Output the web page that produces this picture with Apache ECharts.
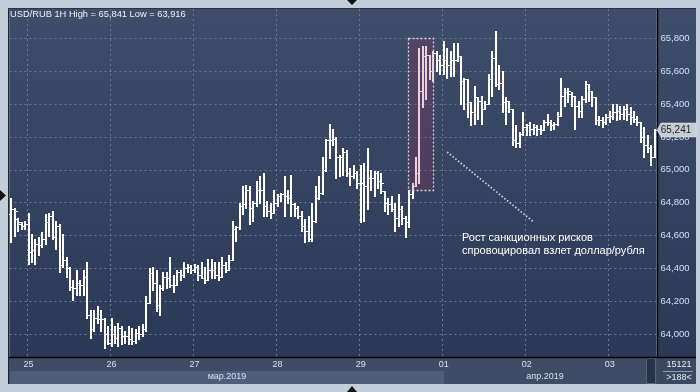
<!DOCTYPE html>
<html><head><meta charset="utf-8">
<script src="https://cdn.jsdelivr.net/npm/echarts@6/dist/echarts.min.js"></script>
<style>html,body{margin:0;padding:0;background:#c3cedb;}#c{width:700px;height:392px;}</style>
</head><body><div id="c"></div>
<script>
// ---- DATA (USD/RUB, 1H bars, 22.03 19:00 .. 03.04 13:00) ----
const dayLabels = ['25','26','27','28','29','01','02','03'];
const dayMonths = ['03','03','03','03','03','04','04','04'];
const preDay = {day:'22', month:'03', firstHour:19};
const firstDayIndex = 5;           // bar index of 25.03 00:00
const lastHourOfLastDay = 13;
const monthLabels = ['мар.2019','апр.2019'];
const yTicks = [64.0,64.2,64.4,64.6,64.8,65.0,65.2,65.4,65.6,65.8];
const yRange = [63.862, 65.9775];
const titleText = 'USD/RUB 1H High = 65,841 Low = 63,916';
const lastPrice = 65.241;
const noteText = 'Рост санкционных рисков\nспровоцировал взлет доллар/рубля';
const boxX = [115, 122];            // bar indices covered by the highlight box
const boxY = [64.88, 65.80];        // price range of the highlight box
const pointerFrom = [126, 65.108];
const pointerTo = [151, 64.683];

const open = [
 64.73,64.76,64.70,64.67,64.66,
 64.67,64.50,64.51,64.55,64.54,64.58,64.68,64.72,64.59,64.66,64.42,64.45,64.40,64.29,64.28,64.31,64.30,64.35,64.12,64.03,64.10,64.09,64.09,64.00,
 63.95,64.00,63.98,64.04,63.99,63.99,63.97,63.96,64.01,64.00,64.03,64.19,64.37,64.31,64.18,64.28,64.35,64.34,64.30,64.30,64.38,64.36,64.40,64.41,
 64.39,64.41,64.36,64.34,64.33,64.39,64.39,64.36,64.35,64.42,64.39,64.45,64.64,64.65,64.78,64.79,64.88,64.77,64.80,64.88,64.88,64.78,64.75,64.74,
 64.80,64.84,64.85,64.84,64.83,64.79,64.77,64.72,64.66,64.63,64.58,64.69,64.83,64.86,65.00,65.18,65.18,65.19,65.08,65.08,65.11,64.98,64.96,64.98,
 64.92,64.92,64.90,64.95,64.95,64.98,64.93,64.87,64.80,64.79,64.76,64.71,64.76,64.71,64.68,64.85,64.90,64.98,65.48,65.69,65.70,65.60,65.71,65.67,
 65.64,65.67,65.64,65.67,65.67,65.69,65.54,65.55,65.41,65.35,65.44,65.42,65.37,65.40,65.55,65.68,65.52,65.53,65.41,65.42,65.37,65.18,65.16,65.22,
 65.26,65.27,65.25,65.26,65.25,65.24,65.29,65.29,65.27,65.28,65.33,65.45,65.47,65.46,65.45,65.39,65.36,65.43,65.52,65.48,65.44,65.30,65.30,65.29,
 65.32,65.33,65.35,65.36,65.34,65.37,65.34,65.32,65.31,65.29,65.20,65.15,65.13,65.08
];
const high = [
 64.83,64.77,64.71,64.68,64.69,
 64.74,64.61,64.58,64.59,64.62,64.73,64.74,64.75,64.69,64.67,64.61,64.47,64.41,64.33,64.39,64.33,64.39,64.44,64.15,64.15,64.17,64.15,64.10,64.05,
 64.10,64.05,64.07,64.05,64.02,64.05,64.04,64.03,64.05,64.06,64.23,64.40,64.41,64.39,64.30,64.38,64.38,64.47,64.36,64.39,64.39,64.44,64.43,64.42,
 64.43,64.42,64.44,64.41,64.46,64.46,64.44,64.44,64.47,64.44,64.48,64.69,64.66,64.80,64.90,64.91,64.90,64.81,64.93,64.96,64.98,64.81,64.80,64.88,
 64.85,64.86,64.96,64.88,64.97,64.80,64.78,64.75,64.70,64.72,64.80,64.90,64.96,65.08,65.19,65.28,65.25,65.20,65.09,65.13,65.12,65.01,65.03,64.99,
 65.03,65.04,65.13,65.00,64.99,64.99,64.98,64.87,64.83,64.84,64.80,64.85,64.78,64.72,64.88,64.92,65.08,65.74,65.75,65.75,65.70,65.72,65.72,65.70,
 65.78,65.74,65.72,65.77,65.77,65.69,65.56,65.55,65.41,65.51,65.44,65.45,65.42,65.58,65.72,65.841,65.64,65.60,65.44,65.42,65.37,65.27,65.23,65.35,
 65.28,65.29,65.28,65.27,65.27,65.30,65.34,65.30,65.29,65.35,65.56,65.50,65.50,65.47,65.45,65.42,65.45,65.54,65.52,65.48,65.44,65.33,65.32,65.34,
 65.36,65.40,65.40,65.39,65.39,65.40,65.38,65.36,65.33,65.29,65.26,65.21,65.15,65.25
];
const low = [
 64.56,64.60,64.63,64.64,64.64,
 64.43,64.44,64.43,64.48,64.53,64.55,64.60,64.58,64.52,64.38,64.41,64.35,64.27,64.21,64.24,64.24,64.24,64.10,63.98,64.02,64.07,64.02,63.916,63.94,
 63.93,63.95,63.93,63.94,63.95,63.94,63.94,63.95,63.97,63.99,64.02,64.19,64.27,64.14,64.12,64.27,64.28,64.29,64.26,64.30,64.33,64.35,64.38,64.37,
 64.38,64.33,64.34,64.31,64.33,64.34,64.34,64.33,64.35,64.38,64.39,64.45,64.57,64.64,64.73,64.77,64.67,64.69,64.78,64.80,64.72,64.72,64.71,64.74,
 64.78,64.81,64.72,64.80,64.72,64.72,64.71,64.63,64.56,64.57,64.57,64.68,64.82,64.85,64.99,65.07,65.15,64.95,64.96,64.97,64.96,64.91,64.95,64.89,
 64.68,64.69,64.76,64.88,64.84,64.89,64.86,64.75,64.73,64.75,64.63,64.66,64.67,64.59,64.65,64.83,64.90,64.92,65.38,65.43,65.55,65.54,65.60,65.58,
 65.58,65.56,65.57,65.57,65.66,65.40,65.37,65.32,65.27,65.28,65.31,65.28,65.37,65.40,65.45,65.51,65.49,65.35,65.28,65.35,65.15,65.14,65.14,65.21,
 65.21,65.21,65.22,65.21,65.22,65.24,65.27,65.24,65.25,65.27,65.33,65.39,65.41,65.39,65.25,65.32,65.32,65.41,65.42,65.39,65.28,65.27,65.26,65.28,
 65.29,65.31,65.30,65.31,65.31,65.30,65.28,65.29,65.27,65.17,65.08,65.11,65.03,65.08
];
const close = [
 64.76,64.75,64.68,64.66,64.67,
 64.50,64.51,64.55,64.54,64.58,64.68,64.72,64.59,64.66,64.42,64.45,64.40,64.29,64.28,64.31,64.30,64.35,64.12,64.03,64.10,64.09,64.09,64.00,63.95,
 64.00,63.98,64.04,63.99,63.99,63.97,63.96,64.01,64.00,64.03,64.19,64.37,64.31,64.18,64.28,64.35,64.34,64.30,64.30,64.38,64.36,64.40,64.41,64.39,
 64.41,64.36,64.34,64.33,64.39,64.39,64.36,64.35,64.42,64.39,64.45,64.64,64.65,64.78,64.79,64.88,64.77,64.80,64.88,64.88,64.78,64.75,64.74,64.80,
 64.84,64.85,64.84,64.83,64.79,64.77,64.72,64.66,64.63,64.58,64.69,64.83,64.86,65.00,65.18,65.18,65.19,65.08,65.08,65.11,64.98,64.96,64.98,64.92,
 64.92,64.90,64.95,64.95,64.98,64.93,64.92,64.80,64.79,64.76,64.71,64.76,64.71,64.68,64.85,64.90,64.98,65.48,65.69,65.70,65.60,65.71,65.67,65.64,
 65.67,65.64,65.67,65.67,65.69,65.54,65.55,65.41,65.35,65.44,65.42,65.37,65.40,65.55,65.68,65.52,65.53,65.41,65.42,65.37,65.18,65.16,65.22,65.26,
 65.27,65.25,65.26,65.25,65.24,65.29,65.29,65.27,65.28,65.33,65.45,65.47,65.48,65.45,65.39,65.36,65.43,65.52,65.48,65.44,65.30,65.30,65.29,65.32,
 65.33,65.35,65.36,65.34,65.37,65.34,65.32,65.31,65.29,65.20,65.15,65.13,65.08,65.241
];

// ---- category labels (hour stamps) ----
const pad = n => (n < 10 ? '0' : '') + n;
const categories = [];
for (let h = preDay.firstHour; h < 24; h++) categories.push(preDay.day + '.' + preDay.month + ' ' + pad(h) + ':00');
dayLabels.forEach((d, j) => {
  const lastH = j === dayLabels.length - 1 ? lastHourOfLastDay : 23;
  for (let h = 0; h <= lastH; h++) categories.push(d + '.' + dayMonths[j] + ' ' + pad(h) + ':00');
});
const ohlc = open.map((o, i) => [i, o, high[i], low[i], close[i]]);
const dayStarts = dayLabels.map((d, j) => firstDayIndex + 24 * j);
const fmt = v => v.toFixed(3).replace('.', ',');
const FONT = '"Liberation Sans", Arial, sans-serif';
const isDayStart = idx => idx >= firstDayIndex && (idx - firstDayIndex) % 24 === 0;

const chart = echarts.init(document.getElementById('c'), null, {renderer: 'canvas', width: 700, height: 392});

function renderOHLC(params, api) {
  const i = api.value(0);
  const top = api.coord([i, api.value(2)]);
  const bot = api.coord([i, api.value(3)]);
  const po = api.coord([i, api.value(1)]);
  const pc = api.coord([i, api.value(4)]);
  const x = Math.round(top[0]);
  const yo = Math.round(po[1]) + 0.5, yc = Math.round(pc[1]) + 0.5;
  const col = '#ffffff';
  return {type: 'group', children: [
    {type: 'line', shape: {x1: x, y1: Math.round(top[1]), x2: x, y2: Math.round(bot[1]) + 1}, style: {stroke: col, lineWidth: 2}},
    {type: 'line', shape: {x1: x - 3, y1: yo, x2: x, y2: yo}, style: {stroke: col, lineWidth: 1}},
    {type: 'line', shape: {x1: x, y1: yc, x2: x + 3, y2: yc}, style: {stroke: col, lineWidth: 1}}
  ]};
}

function renderBox(params, api) {
  const bw = api.size([1, 0])[0];
  const p1 = api.coord([api.value(0), api.value(3)]);
  const p2 = api.coord([api.value(1), api.value(2)]);
  const x1 = Math.round(p1[0] - bw * 0.2) + 0.5, x2 = Math.round(p2[0]) + 0.5;
  const y1 = Math.round(p1[1]) + 0.5, y2 = Math.round(p2[1]) + 0.5;
  return {type: 'rect', shape: {x: x1, y: y1, width: x2 - x1, height: y2 - y1},
    style: {fill: 'rgba(170,40,90,0.22)', stroke: '#d4d4dc', lineWidth: 1.3, lineDash: [2, 2]}};
}

const splitStyle = {color: '#6a7a9a', width: 1, type: [2, 3]};

const option = {
  animation: false,
  backgroundColor: '#c3cedb',
  title: {text: titleText, left: 10, top: 10, padding: 0,
    textStyle: {color: '#eef3fa', fontSize: 9.3, fontWeight: 'normal', fontFamily: FONT}},
  grid: {left: 9.47, right: 43.5, top: 9, bottom: 35, outerBoundsMode: 'none', containLabel: false,
    show: true, borderWidth: 0,
    backgroundColor: new echarts.graphic.LinearGradient(0, 0, 0, 1, [{offset: 0, color: '#3e4d6a'}, {offset: 1, color: '#2c3956'}])},
  xAxis: {
    type: 'category', data: categories, boundaryGap: true, z: 1,
    axisLine: {show: false}, axisTick: {show: false},
    splitLine: {show: true, interval: isDayStart, lineStyle: splitStyle},
    axisLabel: {
      interval: isDayStart,
      formatter: v => v.slice(0, 2),
      color: '#d3e1f3', fontSize: 9, fontFamily: FONT, margin: 3
    }
  },
  yAxis: {
    type: 'value', position: 'right', min: yRange[0], max: yRange[1], z: 1,
    axisLine: {show: false}, axisTick: {show: false, customValues: yTicks},
    splitLine: {show: true, lineStyle: splitStyle},
    axisLabel: {customValues: yTicks, formatter: fmt, color: '#cfe0f7', fontSize: 9.5, fontFamily: FONT, margin: 4}
  },
  series: [
    {type: 'custom', name: 'USD/RUB', z: 3, clip: true,
      renderItem: renderOHLC, data: ohlc, encode: {x: 0, y: [1, 2, 3, 4]}},
    {
      type: 'custom', name: 'box', z: 4, silent: true,
      renderItem: renderBox, data: [[boxX[0], boxX[1], boxY[0], boxY[1]]], encode: {x: [0, 1], y: [2, 3]},
      markLine: {
        z: 5, silent: true, symbol: ['none', 'none'], label: {show: false}, emphasis: {disabled: true},
        lineStyle: {color: '#c9d1de', width: 1.8, type: [1.5, 2]},
        data: [[{coord: pointerFrom}, {coord: pointerTo}]]
      }
    }
  ]
};
chart.setOption(option);

// ---- chrome, positioned from the axes ----
const xPix = i => chart.convertToPixel({xAxisIndex: 0}, i);
const yPix = v => chart.convertToPixel({yAxisIndex: 0}, v);
const aprX = Math.round(xPix(dayStarts[5]));
const priceY = Math.round(yPix(lastPrice));
const BG = -100;
const gfx = [
  {type: 'rect', z: BG, shape: {x: 8, y: 9, width: 1.5, height: 348}, style: {fill: '#3a4866'}},
  {type: 'rect', z: BG, shape: {x: 657, y: 9, width: 39, height: 348},
    style: {fill: new echarts.graphic.LinearGradient(0, 0, 0, 1, [{offset: 0, color: '#3e4d6a'}, {offset: 1, color: '#2c3956'}])}},
  {type: 'rect', z: BG, shape: {x: 8, y: 357, width: 649, height: 27}, style: {fill: '#3e4c66'}},
  {type: 'rect', z: BG, shape: {x: 10, y: 371, width: aprX - 10, height: 13}, style: {fill: '#4f5e78'}},
  {type: 'rect', z: BG, shape: {x: 646.5, y: 358.5, width: 9, height: 25}, style: {fill: '#27334b', stroke: '#56647c', lineWidth: 1}},
  {type: 'rect', z: BG, shape: {x: 657, y: 357, width: 39, height: 27}, style: {fill: '#3a4862'}},
  {type: 'line', z: 20, shape: {x1: 8, y1: 357.5, x2: 696, y2: 357.5}, style: {stroke: '#000', lineWidth: 1.5}},
  {type: 'line', z: 20, shape: {x1: 657.5, y1: 9, x2: 657.5, y2: 357}, style: {stroke: '#000', lineWidth: 1.5}},
  {type: 'line', z: 20, shape: {x1: 8.5, y1: 8, x2: 8.5, y2: 384}, style: {stroke: '#1d2535', lineWidth: 1}},
  {type: 'line', z: 20, shape: {x1: 8, y1: 8.5, x2: 696, y2: 8.5}, style: {stroke: '#2a3346', lineWidth: 1}},
  {type: 'line', z: 20, shape: {x1: 663, y1: 371.5, x2: 693, y2: 371.5}, style: {stroke: '#8a9ab0', lineWidth: 1}},
  {type: 'text', z: 20, x: (10 + aprX) / 2, y: 377, style: {text: monthLabels[0], fill: '#d3e1f3', font: '9px ' + FONT, align: 'center', verticalAlign: 'middle'}},
  {type: 'text', z: 20, x: (aprX + 646) / 2, y: 377, style: {text: monthLabels[1], fill: '#d3e1f3', font: '9px ' + FONT, align: 'center', verticalAlign: 'middle'}},
  {type: 'text', z: 20, x: 679, y: 364.5, style: {text: '15121', fill: '#e6edf6', font: '9px ' + FONT, align: 'center', verticalAlign: 'middle'}},
  {type: 'text', z: 20, x: 679, y: 378, style: {text: '>188<', fill: '#e6edf6', font: '9px ' + FONT, align: 'center', verticalAlign: 'middle'}},
  {type: 'polygon', z: 20, shape: {points: [[0, 190], [6, 195.5], [0, 201]]}, style: {fill: '#111'}},
  {type: 'polygon', z: 20, shape: {points: [[347, 0], [357, 0], [352, 5]]}, style: {fill: '#111'}},
  {type: 'polygon', z: 20, shape: {points: [[347, 392], [357, 392], [352, 386]]}, style: {fill: '#111'}},
  {type: 'polygon', z: 30, shape: {points: [[657, priceY], [661, priceY - 7], [696, priceY - 7], [696, priceY + 7], [661, priceY + 7]]},
    style: {fill: '#c8ccd3', stroke: '#e8eaee', lineWidth: 0.5}},
  {type: 'text', z: 31, x: 676, y: priceY, style: {text: fmt(lastPrice), fill: '#18202c', font: '10px ' + FONT, align: 'center', verticalAlign: 'middle'}},
  {type: 'text', z: 20, x: 462, y: 231, style: {text: noteText, fill: '#ffffff', font: '11px ' + FONT, lineHeight: 13, align: 'left', verticalAlign: 'top'}}
];
chart.setOption({graphic: {elements: gfx}});
</script>
</body></html>
